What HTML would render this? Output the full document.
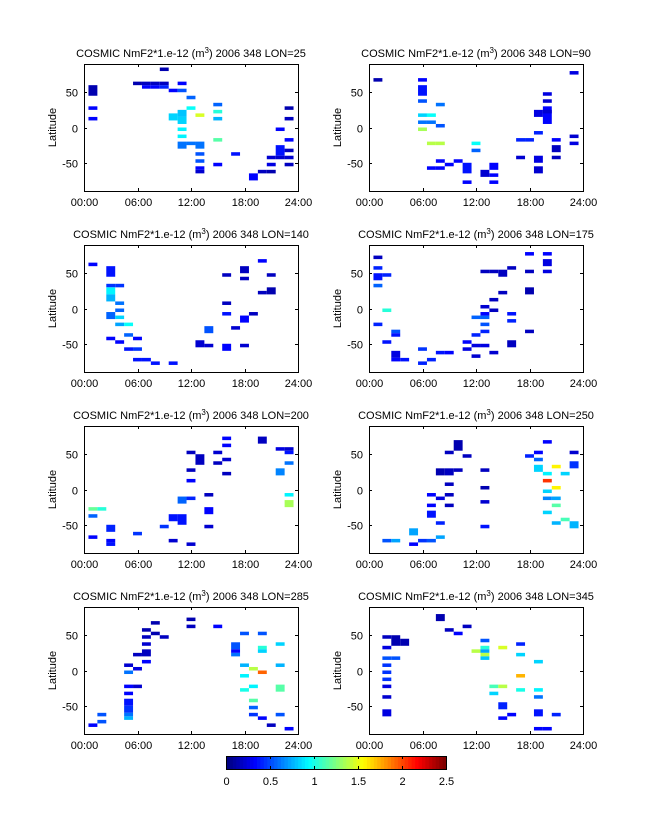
<!DOCTYPE html>
<html><head><meta charset="utf-8">
<style>
html,body{margin:0;padding:0;background:#fff;}
svg{display:block;font-family:"Liberation Sans",sans-serif;}
</style></head>
<body>
<svg id="fig" width="647" height="822" viewBox="0 0 647 822" xmlns="http://www.w3.org/2000/svg"></svg>
<script>
const lons = [25, 90, 140, 175, 200, 250, 285, 345];
const xTickLabels = ["00:00", "06:00", "12:00", "18:00", "24:00"];
const yTickValues = [-50, 0, 50];
const cbarTicks = [0, 0.5, 1, 1.5, 2, 2.5];
// cells: [hour center, lat low, lat high, NmF2 value]
const cellsLon25 = [[1,45,60,0.1],[1,25,30,0.3],[1,10,15,0.3],[9,80,85,0.1],[6,60,65,0.1],[7,60,65,0.15],[8,60,65,0.15],[9,60,65,0.15],[7,55,60,0.3],[8,55,60,0.3],[9,55,60,0.4],[10,50,55,0.3],[11,60,65,0.3],[11,50,55,0.5],[12,40,45,0.55],[12,25,30,0.95],[13,15,20,1.45],[10,10,20,0.85],[11,15,25,0.8],[11,5,15,0.85],[11,-5,0,0.9],[11,-15,-10,0.9],[11,-30,-20,0.6],[12,-25,-20,0.6],[13,-30,-20,0.6],[13,-40,-35,0.5],[13,-50,-45,0.5],[13,-60,-55,0.3],[13,-65,-60,0.2],[15,30,35,0.55],[15,20,25,1.05],[15,10,15,0.75],[15,-20,-15,1.15],[15,-55,-50,0.3],[17,-40,-35,0.35],[19,-75,-65,0.3],[20,-65,-60,0.15],[21,-65,-60,0.1],[21,-45,-40,0.2],[21,-55,-50,0.25],[22,-5,0,0.3],[22,-40,-25,0.35],[22,-45,-40,0.2],[23,25,30,0.1],[23,10,15,0.15],[23,-20,-15,0.3],[23,-35,-30,0.15],[23,-45,-40,0.2],[23,-55,-50,0.15]];
const cellsLon90 = [[1,65,70,0.1],[6,65,70,0.3],[6,45,60,0.35],[6,35,40,0.5],[6,15,20,0.85],[6,5,10,0.6],[6,-5,0,1.35],[7,15,20,0.95],[7,5,10,0.6],[7,-25,-20,1.4],[7,-60,-55,0.3],[8,30,35,0.6],[8,0,5,0.5],[8,-25,-20,1.4],[8,-50,-45,0.3],[8,-60,-55,0.3],[9,-55,-50,0.3],[10,-50,-45,0.3],[11,-65,-50,0.35],[11,-80,-75,0.3],[12,-25,-20,0.95],[12,-35,-30,0.55],[13,-70,-60,0.2],[14,-60,-50,0.3],[14,-70,-65,0.3],[14,-80,-75,0.3],[17,-20,-15,0.4],[17,-45,-40,0.2],[18,-20,-15,0.4],[19,15,25,0.25],[19,-10,-5,0.4],[19,-50,-40,0.25],[19,-65,-55,0.2],[20,45,50,0.25],[20,35,40,0.2],[20,5,30,0.3],[20,20,25,0.2],[21,-20,-15,0.3],[21,-35,-25,0.15],[21,-45,-40,0.15],[23,75,80,0.25],[23,-15,-10,0.2],[23,-25,-20,0.25]];
const cellsLon140 = [[1,60,65,0.3],[3,45,60,0.35],[3,30,35,0.45],[3,20,30,0.9],[3,10,20,0.75],[3,-15,-5,0.55],[3,-45,-40,0.3],[4,30,35,0.45],[4,5,10,0.6],[4,-5,0,0.55],[4,-15,-10,0.85],[4,-25,-20,0.7],[4,-50,-45,0.3],[5,-25,-20,0.95],[5,-40,-35,0.55],[5,-60,-55,0.35],[6,-45,-40,0.3],[6,-60,-55,0.45],[6,-75,-70,0.35],[7,-75,-70,0.35],[8,-80,-75,0.35],[10,-80,-75,0.35],[13,-55,-45,0.2],[14,-35,-25,0.5],[14,-55,-50,0.2],[16,45,50,0.15],[16,5,10,0.15],[16,-10,-5,0.35],[16,-60,-50,0.3],[17,-30,-25,0.2],[18,50,60,0.15],[18,40,45,0.15],[18,-20,-10,0.3],[18,-55,-50,0.2],[19,-10,-5,0.15],[20,65,70,0.3],[20,20,25,0.15],[21,45,50,0.15],[21,20,30,0.1]];
const cellsLon175 = [[1,70,75,0.15],[1,55,60,0.4],[1,40,50,0.35],[1,30,35,0.55],[1,-25,-20,0.4],[2,45,50,0.4],[2,-5,0,1.05],[2,-50,-45,0.35],[3,-35,-30,0.5],[3,-40,-35,0.35],[3,-70,-60,0.25],[3,-75,-70,0.3],[4,-75,-70,0.35],[6,-60,-55,0.45],[6,-80,-75,0.4],[7,-75,-70,0.4],[8,-65,-60,0.35],[9,-65,-60,0.3],[11,-50,-45,0.3],[11,-60,-55,0.25],[12,-15,-10,0.55],[12,-40,-35,0.4],[12,-55,-50,0.25],[12,-70,-65,0.2],[13,50,55,0.15],[14,50,55,0.15],[13,0,5,0.2],[13,-10,-5,0.3],[13,-15,-10,0.55],[13,-25,-20,0.5],[13,-35,-30,0.4],[13,-55,-50,0.25],[14,10,15,0.15],[14,-5,0,0.15],[14,-65,-60,0.2],[15,45,55,0.15],[15,20,25,0.15],[16,55,60,0.15],[16,-10,-5,0.35],[16,-20,-15,0.4],[16,-55,-45,0.15],[18,75,80,0.3],[18,50,55,0.15],[18,20,30,0.1],[18,-35,-30,0.15],[20,75,80,0.3],[20,60,70,0.25],[20,50,55,0.25]];
const cellsLon200 = [[1,-30,-25,1.2],[1,-40,-35,0.55],[1,-70,-65,0.3],[2,-30,-25,1.05],[3,-60,-50,0.4],[3,-75,-70,0.3],[3,-80,-75,0.35],[6,-65,-60,0.45],[9,-55,-50,0.45],[10,-45,-35,0.35],[10,-75,-70,0.2],[11,-50,-35,0.35],[11,-20,-10,0.55],[12,50,55,0.15],[12,25,30,0.15],[12,10,15,0.3],[12,-15,-10,0.4],[12,-80,-75,0.2],[13,35,50,0.15],[14,-10,-5,0.15],[14,-35,-25,0.3],[14,-55,-50,0.2],[15,50,55,0.2],[15,35,40,0.15],[16,70,75,0.3],[16,60,65,0.3],[16,40,45,0.2],[16,20,25,0.15],[20,65,75,0.15],[22,55,60,0.25],[22,20,30,0.65],[23,55,60,0.2],[23,50,55,0.35],[23,35,40,0.6],[23,-10,-5,0.9],[23,-25,-15,1.35]];
const cellsLon250 = [[2,-75,-70,0.5],[3,-75,-70,0.7],[5,-65,-55,0.7],[5,-80,-75,0.3],[6,-75,-70,0.45],[7,-10,-5,0.3],[7,-25,-20,0.3],[7,-40,-30,0.35],[7,-75,-70,0.5],[8,20,30,0.1],[8,-15,-10,0.25],[8,-50,-45,0.4],[8,-70,-65,0.7],[9,50,55,0.15],[9,20,30,0.15],[9,5,10,0.15],[9,-10,-5,0.15],[9,-25,-20,0.15],[10,55,70,0.1],[10,25,30,0.15],[11,45,50,0.15],[13,25,30,0.15],[13,0,5,0.1],[13,-20,-15,0.2],[13,-55,-50,0.35],[18,45,50,0.4],[19,50,55,0.3],[19,40,45,0.55],[19,25,35,0.85],[20,65,70,0.3],[20,20,25,0.9],[20,10,15,2.05],[20,-5,0,0.85],[20,-15,-10,0.65],[20,-35,-30,0.85],[21,30,35,1.6],[21,0,5,1.6],[21,-15,-10,0.7],[21,-25,-20,1.15],[21,-50,-45,0.75],[22,20,25,0.85],[22,-45,-40,1.1],[23,50,55,0.2],[23,30,40,0.45],[23,-55,-45,0.75]];
const cellsLon285 = [[1,-80,-75,0.3],[2,-65,-60,0.5],[2,-75,-70,0.5],[5,5,10,0.2],[5,-5,0,0.6],[5,-25,-20,0.3],[5,-35,-30,0.3],[5,-50,-40,0.35],[5,-60,-50,0.45],[5,-65,-60,0.6],[5,-70,-65,0.75],[6,20,25,0.15],[6,0,5,0.25],[6,-25,-20,0.2],[7,55,60,0.1],[7,45,50,0.15],[7,35,40,0.2],[7,20,30,0.15],[7,10,15,0.3],[8,65,70,0.1],[8,50,55,0.1],[9,45,50,0.15],[12,70,75,0.1],[12,60,65,0.15],[15,60,65,0.3],[17,30,40,0.5],[17,25,30,0.3],[17,20,25,0.6],[18,50,55,0.5],[18,5,10,0.75],[18,-10,-5,0.9],[18,-30,-25,1.0],[19,0,5,1.4],[19,-25,-20,0.9],[19,-45,-40,1.15],[19,-55,-50,0.55],[19,-65,-60,0.45],[20,50,55,0.5],[20,30,35,1.05],[20,25,30,0.85],[20,-5,0,1.95],[20,-70,-65,0.3],[21,-80,-75,0.15],[22,35,40,0.85],[22,5,10,0.75],[22,-30,-20,1.15],[22,-65,-60,0.5],[23,-85,-80,0.3]];
const cellsLon345 = [[2,45,50,0.15],[2,30,35,0.25],[2,15,20,0.5],[2,5,10,0.45],[2,-5,0,0.45],[2,-15,-10,0.45],[2,-25,-20,0.25],[2,-40,-35,0.2],[2,-65,-55,0.25],[3,35,50,0.1],[3,15,20,0.5],[4,35,45,0.1],[8,70,80,0.1],[9,55,60,0.15],[10,50,55,0.3],[11,60,65,0.15],[12,25,30,1.4],[13,40,45,0.5],[13,30,35,1.05],[13,25,30,0.7],[13,20,25,1.4],[13,15,20,0.8],[14,-25,-20,1.1],[14,-35,-30,0.85],[15,30,35,1.45],[15,-25,-20,1.4],[15,-55,-45,0.4],[15,-70,-65,0.3],[16,-65,-60,0.3],[17,35,40,0.4],[17,20,25,0.85],[17,-10,-5,1.75],[17,-30,-25,1.0],[19,10,15,0.85],[19,-30,-25,0.9],[19,-40,-35,0.6],[19,-65,-55,0.35],[19,-85,-80,0.3],[20,-85,-80,0.3],[21,-65,-60,0.4]];
const allCells = [cellsLon25, cellsLon90, cellsLon140, cellsLon175, cellsLon200, cellsLon250, cellsLon285, cellsLon345];

const NS = "http://www.w3.org/2000/svg";
const svg = document.getElementById("fig");
function mk(tag, attrs, parent) { const e = document.createElementNS(NS, tag); for (const k in attrs) e.setAttribute(k, attrs[k]); (parent || svg).appendChild(e); return e; }
function clamp(v) { return Math.max(0, Math.min(1, v)); }
function jet(val) {
  let t = clamp(val / 2.5);
  t = Math.round(t * 63) / 63;
  const r = clamp(1.5 - Math.abs(4 * t - 3)), g = clamp(1.5 - Math.abs(4 * t - 2)), b = clamp(1.5 - Math.abs(4 * t - 1));
  return `rgb(${Math.round(r * 255)},${Math.round(g * 255)},${Math.round(b * 255)})`;
}
const W = 214, H = 127;
const colX = [84, 369], rowY = [64, 245, 426, 607];

lons.forEach((lon, i) => {
  const x0 = colX[i % 2], y0 = rowY[Math.floor(i / 2)];
  const xs = h => x0 + h / 24 * W;
  const ys = lat => y0 + (90 - lat) / 180 * H;
  const g = mk("g", {});
  
  
  allCells[i].forEach(c => {
    const r = mk("rect", { x: xs(c[0] - 0.5), y: ys(c[2]), width: xs(c[0] + 0.5) - xs(c[0] - 0.5), height: ys(c[1]) - ys(c[2]), fill: jet(c[3]) }, g);
    
    
  });
  const box = mk("rect", { x: x0 + 0.5, y: y0 + 0.5, width: W, height: H, fill: "none", stroke: "#000", "stroke-width": 1 }, g);
  
  
  xTickLabels.forEach((lab, k) => {
    const x = Math.round(xs(k * 6)) + 0.5;
    mk("line", { x1: x, x2: x, y1: y0 + H, y2: y0 + H - 3, stroke: "#000" }, g);
    mk("line", { x1: x, x2: x, y1: y0, y2: y0 + 3, stroke: "#000" }, g);
    const t = mk("text", { x: x, y: y0 + H + 15, "font-size": 11, "text-anchor": "middle" }, g);
    t.textContent = lab;
    
    
  });
  yTickValues.forEach(v => {
    const y = Math.round(ys(v)) + 0.5;
    mk("line", { x1: x0, x2: x0 + 3, y1: y, y2: y, stroke: "#000" }, g);
    mk("line", { x1: x0 + W, x2: x0 + W - 3, y1: y, y2: y, stroke: "#000" }, g);
    const t = mk("text", { x: x0 - 6, y: y + 4, "font-size": 11, "text-anchor": "end" }, g);
    t.textContent = v;
    
    
  });
  const yl = mk("text", { x: 0, y: 0, "font-size": 11, "text-anchor": "middle", transform: `translate(${x0 - 28},${y0 + H / 2}) rotate(-90)` }, g);
  yl.textContent = "Latitude";
  
  
  const tt = mk("text", { x: x0 + W / 2, y: y0 - 7, "font-size": 11, "text-anchor": "middle" }, g);
  
  
  const a = mk("tspan", {}, tt); a.textContent = "COSMIC NmF2*1.e-12 (m";
  const b = mk("tspan", { dy: -4, "font-size": 8 }, tt); b.textContent = "3";
  const c = mk("tspan", { dy: 4 }, tt); c.textContent = ") 2006 348 LON=" + lon;
});

// colorbar
const cbX = 226, cbW = 220, cbY = 756, cbH = 13;
const cb = mk("g", {});


for (let k = 0; k < 64; k++) {
  mk("rect", { x: cbX + k * cbW / 64, y: cbY, width: cbW / 64 + 0.4, height: cbH, fill: jet((k + 0.5) / 64 * 2.5) }, cb);
}
mk("rect", { x: cbX + 0.5, y: cbY + 0.5, width: cbW, height: cbH, fill: "none", stroke: "#000" }, cb);
cbarTicks.forEach(v => {
  const x = Math.round(cbX + v / 2.5 * cbW) + 0.5;
  mk("line", { x1: x, x2: x, y1: cbY, y2: cbY + 3, stroke: "#000" }, cb);
  mk("line", { x1: x, x2: x, y1: cbY + cbH, y2: cbY + cbH - 3, stroke: "#000" }, cb);
  const t = mk("text", { x: x, y: cbY + cbH + 16, "font-size": 11, "text-anchor": "middle" }, cb);
  t.textContent = v;
  
  
});
</script>
</body></html>
